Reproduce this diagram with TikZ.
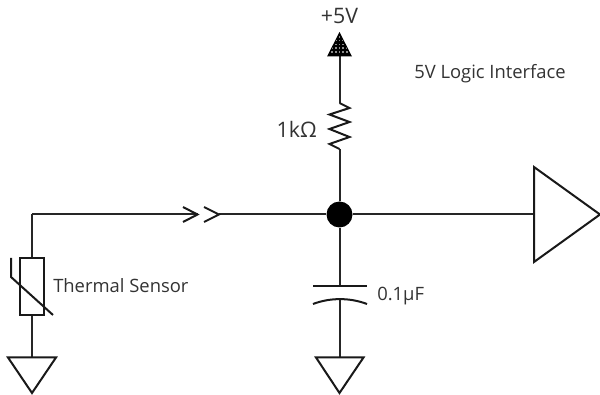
\documentclass[tikz,border=0pt]{standalone}
\usepackage{fontspec}
\setmainfont{Open Sans}
\begin{document}
\begin{tikzpicture}[x=0.75pt,y=-0.75pt,
  wire/.style={draw=black!85,line width=1.5pt,line cap=butt,line join=miter},
  symb/.style={draw=black!90,line width=1.5pt,line join=miter},
  lbl/.style={inner sep=0pt,text=black!80,font=\fontsize{13.8}{16}\selectfont},
  biglbl/.style={inner sep=0pt,text=black!80,font=\fontsize{16}{19}\selectfont},
  dot/.style={circle,fill=black,draw=none,minimum size=19.5pt,inner sep=0pt}]
\useasboundingbox (0,0) rectangle (600,395);
\fill[white] (0,0) rectangle (600,395);
% named points
\node[dot] (j) at (339.5,214.5) {};
\coordinate (corner) at (32,214.5);
\coordinate (chevA) at (197.5,214.5);
\coordinate (chevB) at (219,214.5);
\coordinate (ampin) at (534,214.5);
\coordinate (vcc) at (339.5,56);
\coordinate (rtop) at (339.5,103);
\coordinate (rbot) at (339.5,149);
\coordinate (ctop) at (339.5,287);
\coordinate (cbot) at (339.5,299);
\coordinate (gndC) at (339.5,357);
\coordinate (gndT) at (32,357);
\coordinate (ttop) at (32,258);
\coordinate (tbot) at (32,315);
% wires
\draw[wire] (vcc) -- (rtop);
\draw[wire] (rbot) -- (j);
\draw[wire] (corner) -- (chevA);
\draw[wire] (corner) -- (ttop);
\draw[wire] (tbot) -- (gndT);
\draw[wire] (chevB) -- (j);
\draw[wire] (j) -- (ampin);
\draw[wire] (j) -- (ctop);
\draw[wire] (cbot) -- (gndC);
% resistor
\draw[symb] (rtop) -- (349.5,108) -- (329.5,114.5) -- (349.5,122) -- (329.5,129) -- (349.5,137) -- (329.5,144) -- (rbot);
% chevrons
\draw[symb] (183,207) -- (chevA) -- (183,222);
\draw[symb] (204,207) -- (chevB) -- (204,222);
% source triangle
\fill[black] (339.5,32) -- (352,56.5) -- (327,56.5) -- cycle;
\begin{scope}
\clip (339.5,33.5) -- (349.7,54.5) -- (329.3,54.5) -- cycle;
\foreach \r in {0,...,5} \foreach \c in {-3,...,3}
  \fill[black!45] ({339.5+3.7*\c-0.9},{36.7+3.9*\r-0.9}) rectangle ++(1.8,1.8);
\end{scope}
% capacitor
\draw[symb] (313,286.5) -- (367,286.5);
\draw[symb] (313,304) .. controls (330,297.5) and (350,297.5) .. (367,304);
% thermistor
\draw[symb] (20,258) rectangle (44,315);
\draw[symb] (11,258) -- (11,277) -- (53,315);
% grounds
\draw[symb] (8,357.5) -- (56,357.5) -- (32,393) -- cycle;
\draw[symb] (316,357.5) -- (363.5,357.5) -- (339.5,393) -- cycle;
% buffer
\draw[symb] (534,167) -- (600,214.5) -- (534,262) -- cycle;
% labels
\node[biglbl,anchor=center] at (339.5,15.5) {+5V};
\node[lbl,anchor=west] at (414,74) {5V Logic Interface};
\node[biglbl,anchor=east] at (317,129) {1kΩ};
\node[lbl,anchor=west] at (53,286) {Thermal Sensor};
\node[lbl,anchor=west] at (377,296) {0.1μF};
\end{tikzpicture}
\end{document}
